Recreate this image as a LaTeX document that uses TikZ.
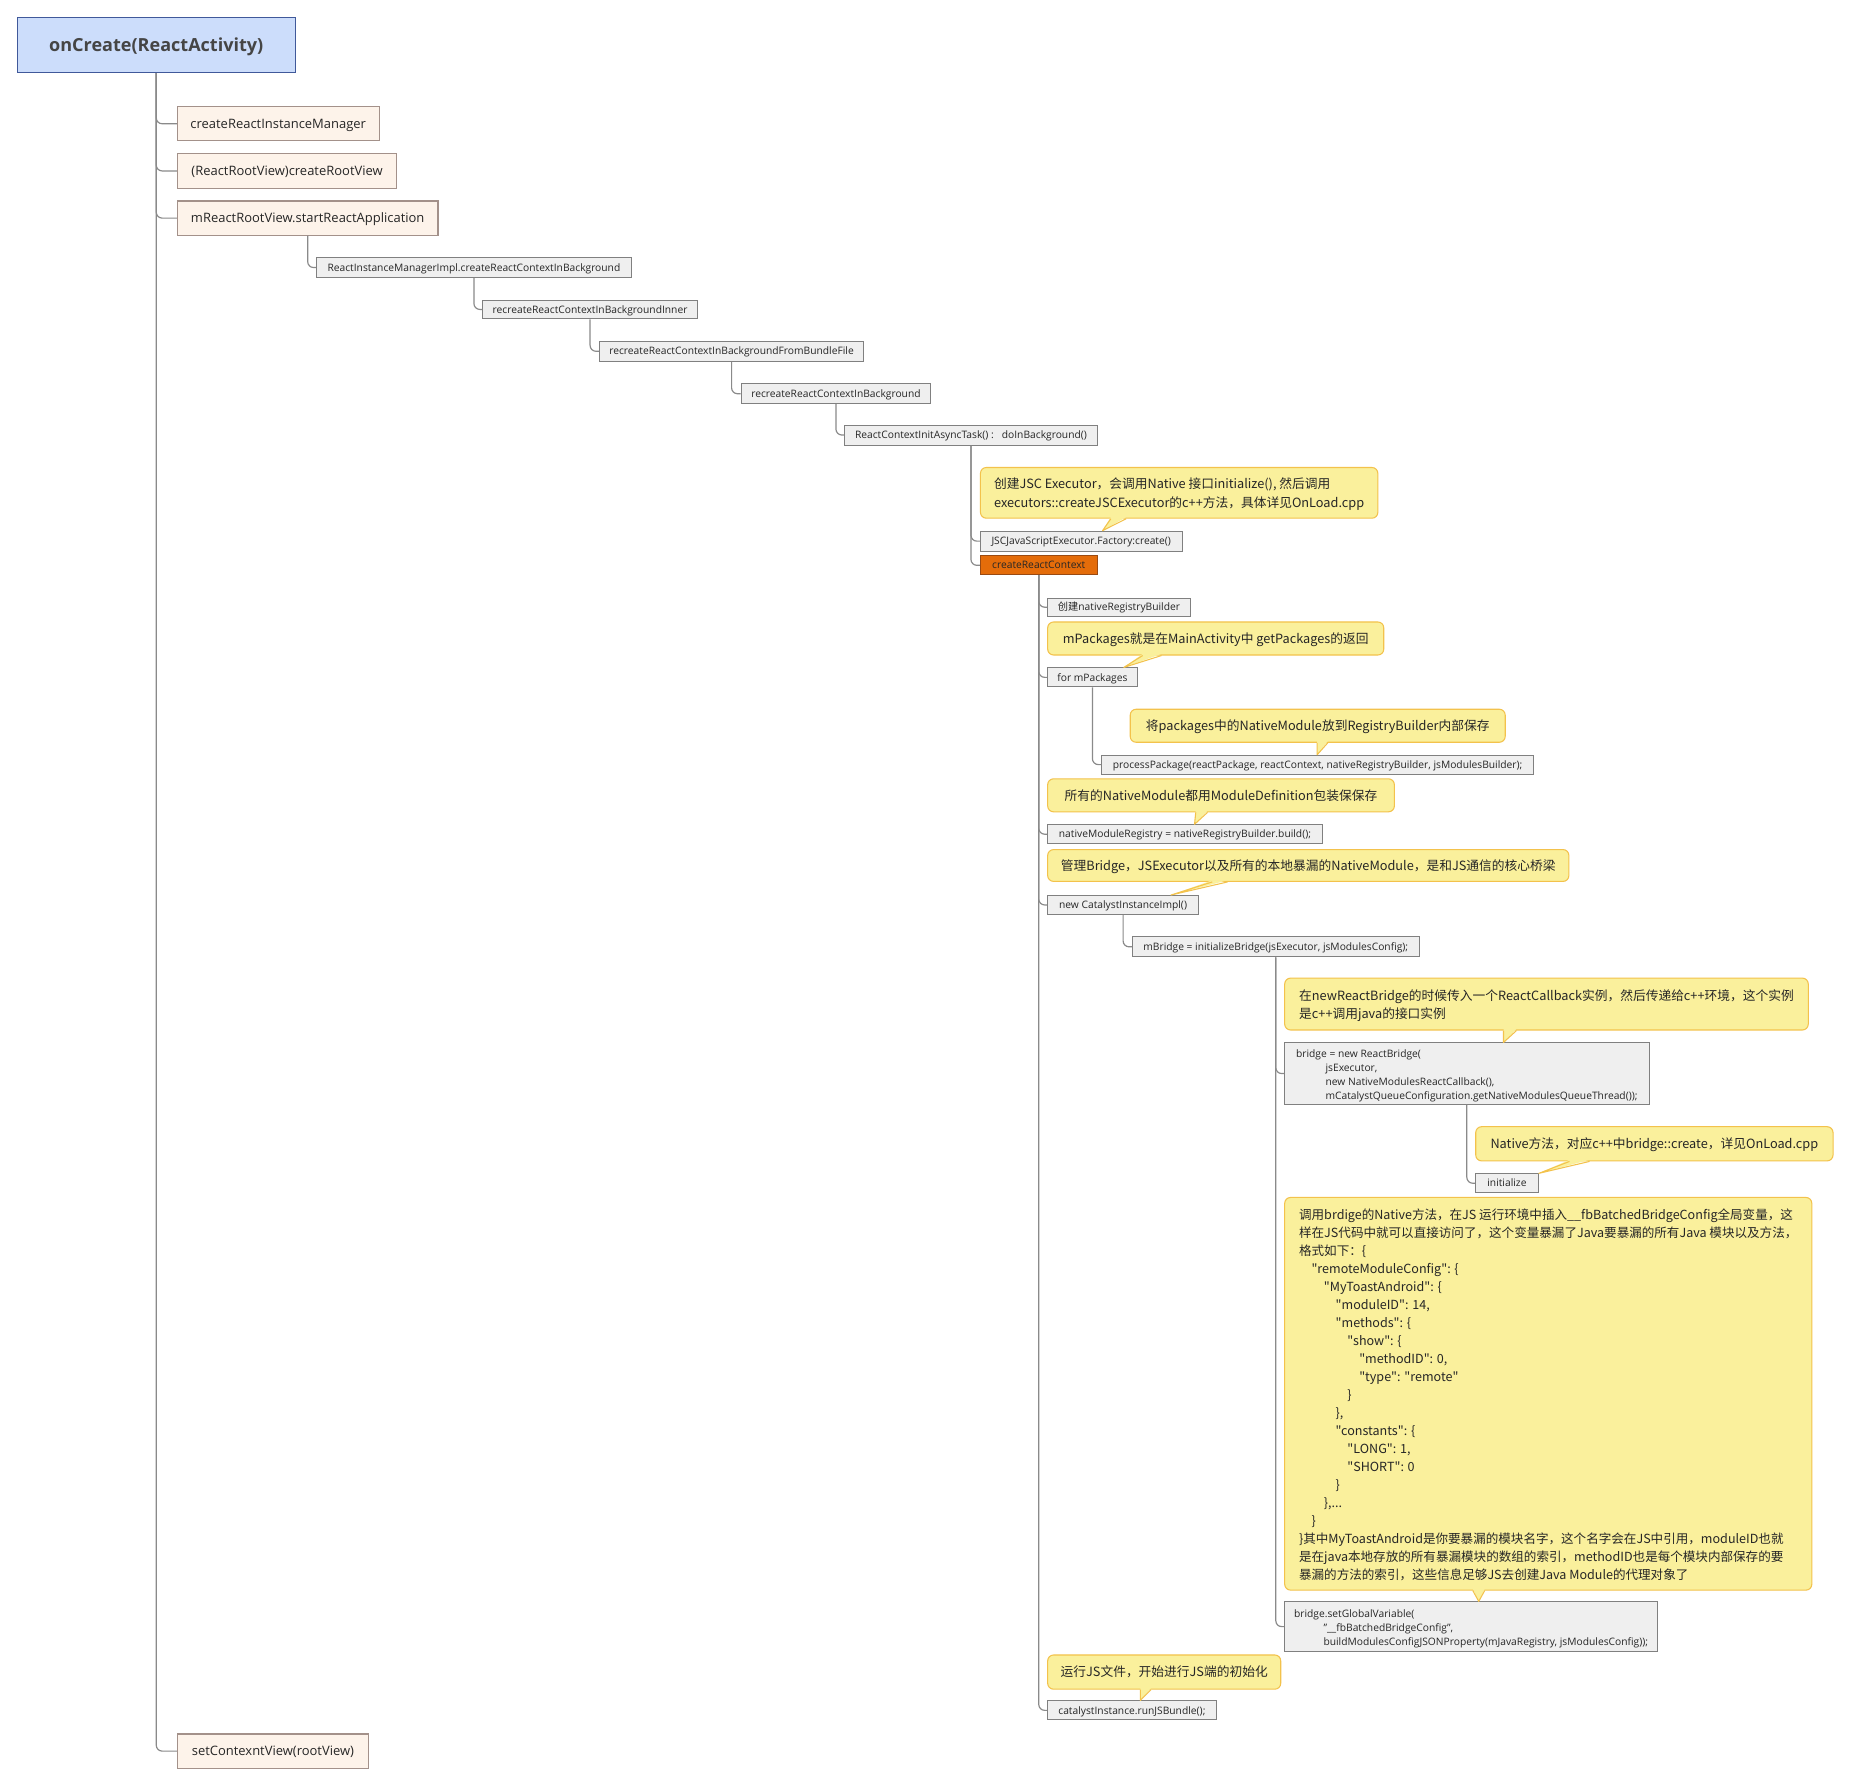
\documentclass[tikz,border=0pt]{standalone}
\usepackage{fontspec}
\setmainfont{Open Sans}
\newfontfamily\cjkfont{Noto Sans CJK SC}
\usetikzlibrary{calc}
\definecolor{linegray}{HTML}{8A8A8A}
\definecolor{rootfill}{HTML}{CCDDFB}
\definecolor{rootborder}{HTML}{40599A}
\definecolor{roottext}{HTML}{454545}
\definecolor{topfill}{HTML}{FDF3EA}
\definecolor{topborder}{HTML}{A3918A}
\definecolor{smallfill}{HTML}{EFEFEF}
\definecolor{smallborder}{HTML}{808080}
\definecolor{hotfill}{HTML}{E46C0A}
\definecolor{hotborder}{HTML}{9A4A12}
\definecolor{callfill}{HTML}{FAF09C}
\definecolor{callborder}{HTML}{F3C24C}
\definecolor{darktext}{HTML}{262626}
\newcommand\ptrto[5]{%
  \path[ptrfill] ($(#3,0 |- #1.south)+(0,-1.4)$) -- (#5,0 |- #2.north) -- ($(#4,0 |- #1.south)+(0,-1.4)$) -- cycle;
  \draw[ptrline] (#3,0 |- #1.south) -- (#5,0 |- #2.north) -- (#4,0 |- #1.south);}
\newcommand\topst[1]{\rule{0pt}{#1pt}}
\newcommand\botst{\rule[-4pt]{0pt}{0pt}}
\begin{document}
\begin{tikzpicture}[x=1pt,y=-1pt,
  conn/.style={draw=linegray, line width=1pt, rounded corners=5pt},
  rootbox/.style={draw=rootborder, fill=rootfill, line width=1pt, font=\fontsize{15.3}{18}\selectfont\bfseries, text=roottext, anchor=north west, inner sep=0pt, align=center, text height=11pt, text depth=0pt},
  topbox/.style={draw=topborder, fill=topfill, line width=0.9pt, font=\fontsize{11}{13}\selectfont, text=darktext, anchor=north west, inner xsep=11pt, inner ysep=0pt, align=left, text height=7.9pt, text depth=0pt},
  smallbox/.style={draw=smallborder, fill=smallfill, line width=0.8pt, font=\fontsize{8.7}{12}\selectfont, text=darktext, anchor=north west, inner xsep=8pt, inner ysep=0pt, align=left, text height=6.2pt, text depth=0pt},
  hotbox/.style={smallbox, fill=hotfill, draw=hotborder},
  callout/.style={draw=callborder, fill=callfill, line width=0.9pt, rounded corners=5pt, font=\cjkfont\fontsize{10.8}{15.5}\selectfont, text=darktext, anchor=north west, inner xsep=11pt, inner ysep=0pt, align=left, text height=8.2pt, text depth=0pt},
  multi/.style={text height={}, text depth={}},
  ptrfill/.style={fill=callfill},
  ptrline/.style={draw=callborder, line width=0.9pt, line join=round},
]
\useasboundingbox[fill=white] (0,0) rectangle (1568,1513);

% main column
\node[rootbox, minimum width=236pt, minimum height=47pt] (root) at (14,14) {onCreate(ReactActivity)};
\node[topbox, minimum width=171pt, minimum height=29pt] (cRIM) at (150,90) {createReactInstanceManager};
\node[topbox, minimum width=186pt, minimum height=29pt] (cRV) at (150,130) {(ReactRootView)createRootView};
\node[topbox, minimum width=221pt, minimum height=29pt] (sRA) at (150,170) {mReactRootView.startReactApplication};
\node[topbox, minimum width=162pt, minimum height=29pt] (sCV) at (150,1470) {setContexntView(rootView)};

% cascade
\node[smallbox, minimum width=267pt, minimum height=17pt] (rimpl) at (268,218) {ReactInstanceManagerImpl.createReactContextInBackground};
\node[smallbox, minimum width=182pt, minimum height=16pt] (inner) at (409,254) {recreateReactContextInBackgroundInner};
\node[smallbox, minimum width=224pt, minimum height=17pt] (bundle) at (508,289) {recreateReactContextInBackgroundFromBundleFile};
\node[smallbox, minimum width=161pt, minimum height=17pt] (recreate) at (628,325) {recreateReactContextInBackground};
\node[smallbox, minimum width=214pt, minimum height=17pt] (async) at (716,360) {ReactContextInitAsyncTask() :\ \ \ doInBackground()};
\node[smallbox, minimum width=171pt, minimum height=17pt] (jsc) at (831,450) {JSCJavaScriptExecutor.Factory:create()};
\node[hotbox, minimum width=99pt, minimum height=16pt] (crc) at (831,471) {createReactContext};

% createReactContext children
\node[smallbox, minimum width=121pt, minimum height=15pt] (nrb) at (888,507) {{\cjkfont 创建}nativeRegistryBuilder};
\node[smallbox, minimum width=76pt, minimum height=16pt] (formp) at (888,566) {for mPackages};
\node[smallbox, minimum width=366pt, minimum height=16pt] (procp) at (934,640) {processPackage(reactPackage, reactContext, nativeRegistryBuilder, jsModulesBuilder);};
\node[smallbox, minimum width=233pt, minimum height=16pt] (nmr) at (888,699) {nativeModuleRegistry = nativeRegistryBuilder.build();};
\node[smallbox, minimum width=128pt, minimum height=16pt] (cii) at (888,759) {new CatalystInstanceImpl()};
\node[smallbox, minimum width=243pt, minimum height=17pt] (mbridge) at (960,794) {mBridge = initializeBridge(jsExecutor, jsModulesConfig);};
\node[smallbox, multi, minimum width=309pt, minimum height=52pt] (bridge) at (1089,884) {\topst{11.2}bridge = new ReactBridge(\\
\hspace*{25pt}jsExecutor,\\
\hspace*{25pt}new NativeModulesReactCallback(),\\
\hspace*{25pt}mCatalystQueueConfiguration.getNativeModulesQueueThread());\rule[-3pt]{0pt}{0pt}};
\node[smallbox, minimum width=53pt, minimum height=16pt] (init) at (1251,995) {initialize};
\node[smallbox, multi, minimum width=316pt, minimum height=42pt] (setgv) at (1089,1358) {\topst{11.2}bridge.setGlobalVariable(\\
\hspace*{25pt}"\_\_fbBatchedBridgeConfig",\\
\hspace*{25pt}buildModulesConfigJSONProperty(mJavaRegistry, jsModulesConfig));\rule[-3pt]{0pt}{0pt}};
\node[smallbox, minimum width=143pt, minimum height=16pt] (runjs) at (888,1442) {catalystInstance.runJSBundle();};

% connectors
\draw[conn] (root.south) |- (cRIM.west);
\draw[conn] (root.south) |- (cRV.west);
\draw[conn] (root.south) |- (sRA.west);
\draw[conn] (root.south) |- (sCV.west);
\draw[conn] (sRA.south) |- (rimpl.west);
\draw[conn] (rimpl.south) |- (inner.west);
\draw[conn] (inner.south) |- (bundle.west);
\draw[conn] (bundle.south) |- (recreate.west);
\draw[conn] (recreate.south) |- (async.west);
\draw[conn] (async.south) |- (jsc.west);
\draw[conn] (async.south) |- (crc.west);
\draw[conn] (crc.south) |- (nrb.west);
\draw[conn] (crc.south) |- (formp.west);
\draw[conn] (crc.south) |- (nmr.west);
\draw[conn] (crc.south) |- (cii.west);
\draw[conn] (crc.south) |- (runjs.west);
\draw[conn] (formp.south) |- (procp.west);
\draw[conn] (cii.south) |- (mbridge.west);
\draw[conn] (mbridge.south) |- (bridge.west);
\draw[conn] (mbridge.south) |- (setgv.west);
\draw[conn] (bridge.south) |- (init.west);

% callouts
\node[callout, multi, minimum width=337pt, minimum height=43pt] (n1) at (831,396) {\topst{12.7}创建JSC Executor，会调用Native 接口initialize(), 然后调用\\executors::createJSCExecutor的c++方法，具体详见OnLoad.cpp\botst};
\ptrto{n1}{jsc}{942}{955}{935}
\node[callout, minimum width=285pt, minimum height=28pt] (n2) at (888,527) {mPackages就是在MainActivity中 getPackages的返回};
\ptrto{n2}{formp}{969}{985}{953}
\node[callout, minimum width=318pt, minimum height=28pt] (n3) at (958,601) {将packages中的NativeModule放到RegistryBuilder内部保存};
\ptrto{n3}{procp}{1117}{1126}{1117}
\node[callout, minimum width=294pt, minimum height=28pt] (n4) at (888,660) {所有的NativeModule都用ModuleDefinition包装保保存};
\ptrto{n4}{nmr}{1014}{1024}{1013}
\node[callout, minimum width=442pt, minimum height=27pt] (n5) at (888,720) {管理Bridge，JSExecutor以及所有的本地暴漏的NativeModule，是和JS通信的核心桥梁};
\ptrto{n5}{cii}{1028}{1041}{993}
\node[callout, multi, minimum width=444pt, minimum height=44pt] (n6) at (1089,829) {\topst{13.7}在newReactBridge的时候传入一个ReactCallback实例，然后传递给c++环境，这个实例\\是c++调用java的接口实例\botst};
\ptrto{n6}{bridge}{1275}{1286}{1275}
\node[callout, minimum width=303pt, minimum height=29pt] (n7) at (1251,955) {Native方法，对应c++中bridge::create，详见OnLoad.cpp};
\ptrto{n7}{init}{1331}{1348}{1305}
\node[callout, multi, minimum width=447pt, minimum height=333pt, font=\cjkfont\fontsize{10.65}{15.25}\selectfont, inner xsep=10pt] (n8) at (1089,1015) {\topst{14.2}调用brdige的Native方法，在JS 运行环境中插入\_\_fbBatchedBridgeConfig全局变量，这\\
样在JS代码中就可以直接访问了，这个变量暴漏了Java要暴漏的所有Java 模块以及方法，\\
格式如下：\{\\
\hspace*{10.5pt}"remoteModuleConfig": \{\\
\hspace*{21pt}"MyToastAndroid": \{\\
\hspace*{31pt}"moduleID": 14,\\
\hspace*{31pt}"methods": \{\\
\hspace*{41pt}"show": \{\\
\hspace*{51pt}"methodID": 0,\\
\hspace*{51pt}"type": "remote"\\
\hspace*{41pt}\}\\
\hspace*{31pt}\},\\
\hspace*{31pt}"constants": \{\\
\hspace*{41pt}"LONG": 1,\\
\hspace*{41pt}"SHORT": 0\\
\hspace*{31pt}\}\\
\hspace*{21pt}\},...\\
\hspace*{10.5pt}\}\\
\}其中MyToastAndroid是你要暴漏的模块名字，这个名字会在JS中引用，moduleID也就\\
是在java本地存放的所有暴漏模块的数组的索引，methodID也是每个模块内部保存的要\\
暴漏的方法的索引，这些信息足够JS去创建Java Module的代理对象了\botst};
\ptrto{n8}{setgv}{1249}{1259}{1254}
\node[callout, minimum width=194pt, minimum height=29pt] (n9) at (888,1403) {运行JS文件，开始进行JS端的初始化};
\ptrto{n9}{runjs}{967}{976}{967}
\end{tikzpicture}
\end{document}
